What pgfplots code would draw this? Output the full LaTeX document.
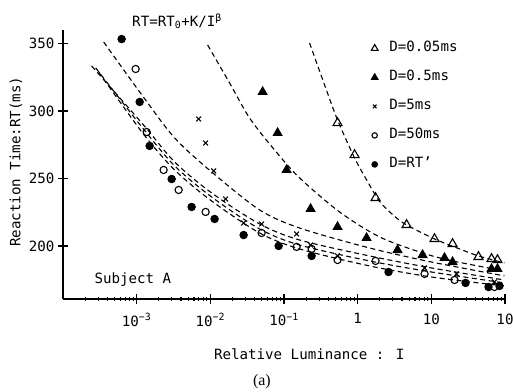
\documentclass[border=0pt]{standalone}
\usepackage{fontspec}
\setmainfont{DejaVu Sans Mono}
\newfontfamily\seriffont{Liberation Serif}
\usepackage{pgfplots}
\pgfplotsset{compat=1.18}
\newcommand{\pf}{\fontsize{14.2}{16}\selectfont}
\begin{document}
\begin{tikzpicture}
\path[use as bounding box] (-63bp,-93bp) rectangle (450bp,299bp);
\begin{axis}[
  at={(0,0)}, anchor=south west,
  scale only axis, width=442bp, height=269bp,
  xmin=-4, xmax=2, ymin=160.7, ymax=360,
  axis x line*=bottom, axis y line*=left,
  axis line style={line width=1.4bp,-},
  clip mode=individual,
  xtick={-3,-2,-1,0,1,2},
  xticklabels={10\textsuperscript{−3},10\textsuperscript{−2},10\textsuperscript{−1},1,10,10},
  minor xtick={-3.699,-3.523,-3.398,-3.301,-3.222,-3.155,-3.097,-3.046,
   -2.699,-2.523,-2.398,-2.301,-2.222,-2.155,-2.097,-2.046,
   -1.699,-1.523,-1.398,-1.301,-1.222,-1.155,-1.097,-1.046,
   -0.699,-0.523,-0.398,-0.301,-0.222,-0.155,-0.097,-0.046,
   0.301,0.477,0.602,0.699,0.778,0.845,0.903,0.954,
   1.301,1.477,1.602,1.699,1.778,1.845,1.903,1.954},
  ytick={200,250,300,350},
  tick align=center,
  major tick length=10bp, minor tick length=4bp,
  tick style={black, line width=1.1bp},
  tick label style={font=\pf},
  xticklabel style={yshift=-6bp},
  /pgf/number format/assume math mode=true,
  legend style={at={(0.693,0.962)}, anchor=north west, draw=none, fill=none,
    font=\pf, row sep=13bp, inner sep=0pt,
    nodes={inner sep=1.5bp, text height=10bp, text depth=3bp}},
  legend cell align=left,
  legend image code/.code={\draw[#1] plot coordinates {(0bp,0bp)}; \path (-5bp,0bp) (13bp,0bp);},
  legend image post style={every mark/.append style={scale=0.75}},
  cur/.style={black, line width=1.1bp, dash pattern=on 5bp off 3.5bp, smooth, forget plot},
]
% fitted curves
\addplot[cur] coordinates {(-0.653,350.4) (-0.449,319.3) (-0.273,293.3) (-0.042,265.2) (0.121,249.0) (0.297,233.0) (0.501,222.0) (0.664,215.6) (1.043,205.2) (1.383,197.8) (1.640,192.6) (1.993,187.4)};
\addplot[cur] coordinates {(-2.037,348.9) (-1.738,320.7) (-1.467,294.8) (-1.128,271.1) (-0.788,250.4) (-0.246,225.2) (0.297,206.7) (0.881,194.8) (1.288,188.9) (1.925,182.2)};
\addplot[cur] coordinates {(-3.448,351.1) (-2.919,311.1) (-2.484,280.0) (-1.982,254.8) (-1.331,226.7) (-0.788,213.3) (0.161,198.5) (1.003,188.1) (1.993,177.8)};
\addplot[cur] coordinates {(-3.611,333.3) (-2.919,290.4) (-2.484,262.2) (-1.982,239.3) (-1.331,216.3) (-0.788,204.4) (0.161,192.6) (1.003,183.7) (1.993,174.8)};
\addplot[cur] coordinates {(-3.556,331.9) (-2.919,287.4) (-2.484,259.3) (-1.982,236.3) (-1.331,212.6) (-0.788,200.7) (0.161,188.9) (1.003,180.7) (1.993,172.6)};
\addplot[cur] coordinates {(-3.516,328.9) (-2.919,283.7) (-2.484,256.3) (-1.982,233.3) (-1.331,209.6) (-0.788,197.8) (0.161,185.2) (1.003,177.0) (1.993,170.4)};
% data
\addplot[only marks, black, mark=triangle, mark size=5.2bp, mark options={line width=1.1bp, fill=white}] coordinates {
(-0.273,291.1) (-0.042,267.4) (0.243,235.6) (0.664,215.6) (1.043,205.2) (1.288,201.5) (1.640,191.9) (1.817,190.4) (1.898,189.6)};
\addlegendentry{D=0.05ms}
\addplot[only marks, black, mark=triangle*, mark size=5.2bp, mark options={line width=0.8bp, fill=black}] coordinates {
(-1.290,314.1) (-1.087,283.7) (-0.965,256.3) (-0.639,227.4) (-0.273,214.1) (0.121,205.9) (0.541,197.0) (0.881,193.3) (1.179,191.1) (1.288,188.1) (1.817,183.0) (1.898,183.0)};
\addlegendentry{D=0.5ms}
\addplot[only marks, black, mark=x, mark size=3.4bp, mark options={line width=1.1bp}] coordinates {
(-2.159,294.1) (-2.064,276.3) (-1.955,255.6) (-1.792,234.8) (-1.548,217.0) (-1.304,216.3) (-0.829,208.9) (-0.639,200.7) (-0.273,192.6) (0.908,183.7) (1.342,179.3) (1.857,173.3)};
\addlegendentry{D=5ms}
\addplot[only marks, black, mark=o, mark size=3.6bp, mark options={line width=1.1bp, fill=white}] coordinates {
(-3.014,331.1) (-2.864,284.4) (-2.634,256.3) (-2.430,241.5) (-2.064,225.2) (-1.304,209.6) (-0.829,199.3) (-0.625,197.8) (-0.273,189.6) (0.243,188.9) (0.908,179.3) (1.315,174.8) (1.857,169.6)};
\addlegendentry{D=50ms}
\addplot[only marks, black, mark=*, mark size=3.7bp, mark options={line width=1bp, fill=black}] coordinates {
(-3.204,353.3) (-2.959,306.7) (-2.824,274.1) (-2.525,249.6) (-2.254,228.9) (-1.942,220.0) (-1.548,208.1) (-1.073,200.0) (-0.625,192.6) (0.419,180.7) (1.464,172.6) (1.776,169.6) (1.925,170.4)};
\addlegendentry{D=RT’}
% texts
\node[font=\pf] at (rel axis cs:0.258,1.032) {RT=RT\textsubscript{0}+K/I\textsuperscript{β}};
\node[font=\pf] at (rel axis cs:0.158,0.071) {Subject A};
\node[font=\pf, rotate=90] at (rel axis cs:0,0.51) [yshift=47bp] {Reaction Time:RT(ms)};
\node[font=\pf] at (rel axis cs:0.557,0) [yshift=-55bp] {Relative Luminance : I};
\node[font=\seriffont\fontsize{16}{18}\selectfont] at (rel axis cs:0.45,0) [yshift=-83bp] {(a)};
\end{axis}
\end{tikzpicture}
\end{document}
